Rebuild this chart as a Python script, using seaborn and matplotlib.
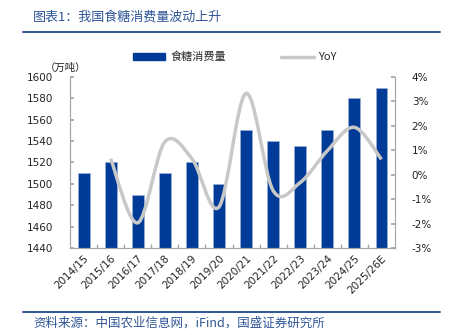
import numpy as np
import pandas as pd
import matplotlib
matplotlib.use("Agg")
import matplotlib.pyplot as plt
from matplotlib.path import Path
from matplotlib.patches import PathPatch, Patch
from matplotlib.lines import Line2D
from matplotlib.ticker import FuncFormatter, FixedLocator
import seaborn as sns

# Sugar consumption by crop year (10k tonnes) and year-on-year change (%)
seasons = ["2014/15", "2015/16", "2016/17", "2017/18", "2018/19", "2019/20",
           "2020/21", "2021/22", "2022/23", "2023/24", "2024/25", "2025/26E"]
consumption = [1510, 1520, 1490, 1510, 1520, 1500, 1550, 1540, 1535, 1550, 1580, 1590]
yoy_seasons = seasons[1:]
yoy = [0.66, -1.97, 1.34, 0.66, -1.32, 3.33, -0.65, -0.32, 0.98, 1.94, 0.63]

left_ticks = [1440, 1460, 1480, 1500, 1520, 1540, 1560, 1580, 1600]
right_ticks = [-3, -2, -1, 0, 1, 2, 3, 4]

BAR = "#003C97"
LINE = "#C8C8C8"
ACCENT = "#2F5597"
TXT = "#222222"

sns.set_theme(style="white")
plt.rcParams["font.family"] = ["Noto Sans CJK SC", "DejaVu Sans"]

fig = plt.figure(figsize=(4.5, 3.35), dpi=100)
ax = fig.add_axes([70 / 450, 1 - 248 / 335, 325 / 450, 171 / 335])

df = pd.DataFrame({"season": seasons, "consumption": consumption})
sns.barplot(data=df, x="season", y="consumption", color=BAR, width=0.44,
            edgecolor="#9DB3DA", linewidth=0.4, ax=ax, saturation=1)
ax.set_ylim(1440, 1600)
ax.set_xlim(-0.5, len(seasons) - 0.5)
ax.yaxis.set_major_locator(FixedLocator(left_ticks))
ax.set_xlabel("")
ax.set_ylabel("")

# Smoothed YoY curve (Catmull-Rom style Bezier segments through the points)
ax2 = ax.twinx()
xs = np.array([seasons.index(s) for s in yoy_seasons], dtype=float)
ys = np.array(yoy, dtype=float)
pts = np.column_stack([xs, ys])
verts = [tuple(pts[0])]
codes = [Path.MOVETO]
n = len(pts)
for i in range(n - 1):
    p0 = pts[i - 1] if i > 0 else pts[i]
    p1 = pts[i]
    p2 = pts[i + 1]
    p3 = pts[i + 2] if i + 2 < n else pts[i + 1]
    c1 = p1 + (p2 - p0) / 6.0
    c2 = p2 - (p3 - p1) / 6.0
    verts += [tuple(c1), tuple(c2), tuple(p2)]
    codes += [Path.CURVE4] * 3
ax2.add_patch(PathPatch(Path(verts, codes), facecolor="none", edgecolor=LINE,
                        linewidth=2.5, capstyle="butt", joinstyle="round"))
ax2.set_ylim(-3, 4)
ax2.yaxis.set_major_locator(FixedLocator(right_ticks))
ax2.yaxis.set_major_formatter(FuncFormatter(lambda v, p: f"{v:.0f}%"))
ax2.grid(False)
ax.grid(False)

for a in (ax, ax2):
    for side, sp in a.spines.items():
        sp.set_color("#A6A6A6")
        sp.set_linewidth(0.8)
    a.spines["top"].set_visible(False)

ax.tick_params(axis="y", direction="in", length=3, color="#A6A6A6",
               labelsize=7.5, labelcolor=TXT, pad=12, left=True)
ax2.tick_params(axis="y", direction="in", length=3, color="#A6A6A6",
                labelsize=7.5, labelcolor=TXT, pad=12, right=True)
for lab in ax.get_yticklabels() + ax2.get_yticklabels():
    lab.set_family("DejaVu Sans")

# category labels at bar centres, tick marks between categories
ax.set_xticks(range(len(seasons)))
ax.set_xticklabels(seasons, rotation=45, ha="right", rotation_mode="anchor",
                   fontsize=7.5, color=TXT, family="DejaVu Sans")
ax.tick_params(axis="x", which="major", length=0, pad=4)
ax.set_xticks(np.arange(0.5, len(seasons) - 1, 1.0), minor=True)
ax.tick_params(axis="x", which="minor", direction="in", length=3,
               color="#A6A6A6", bottom=True)

# legend above the plot
handles = [Patch(facecolor=BAR, edgecolor=BAR, label="食糖消费量"),
           Line2D([0], [0], color=LINE, lw=2.5, label="YoY")]
fig.legend(handles=handles, loc="center", bbox_to_anchor=(235 / 450, 1 - 57 / 335),
           ncol=2, frameon=False, fontsize=8, handlelength=2.9,
           handleheight=0.6, columnspacing=5.0, handletextpad=0.45)

fig.text(66 / 450, 1 - 68 / 335, "（万吨）", fontsize=7.5, color=TXT,
         ha="center", va="center")

# header and footer
fig.text(33 / 450, 1 - 17 / 335, "图表1：我国食糖消费量波动上升", fontsize=9.4,
         color=ACCENT, ha="left", va="center", style="italic")
fig.add_artist(Line2D([23 / 450, 440 / 450], [1 - 32 / 335] * 2,
                      color=ACCENT, lw=1.4, transform=fig.transFigure))
fig.add_artist(Line2D([23 / 450, 440 / 450], [1 - 312 / 335] * 2,
                      color=ACCENT, lw=1.4, transform=fig.transFigure))
fig.text(33 / 450, 1 - 323 / 335, "资料来源：中国农业信息网，iFind，国盛证券研究所",
         fontsize=9, color=ACCENT, ha="left", va="center", style="italic")

fig.savefig("out.png", dpi=100)
